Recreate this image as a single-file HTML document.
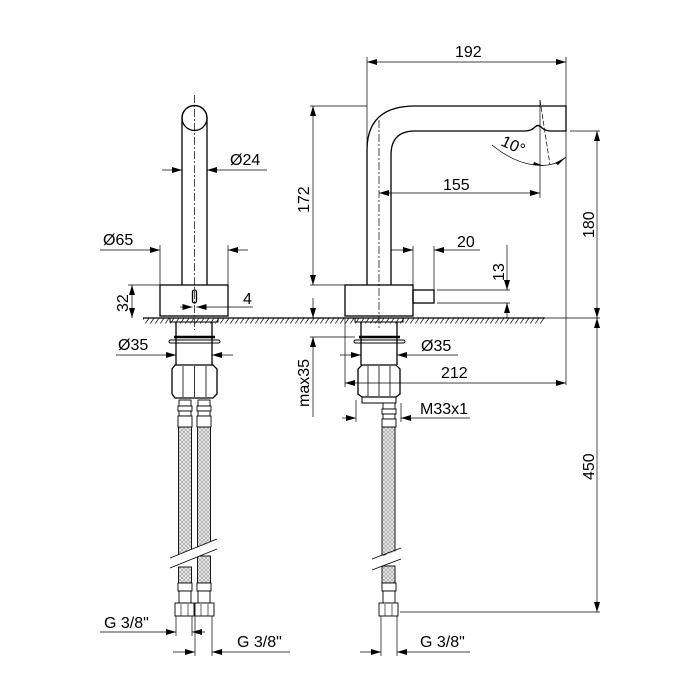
<!DOCTYPE html>
<html><head><meta charset="utf-8"><style>body{margin:0;background:#fff}svg{display:block}text{font-family:"Liberation Sans",sans-serif;font-size:16px;fill:#000}</style></head><body>
<svg width="700" height="700" viewBox="0 0 700 700" xmlns="http://www.w3.org/2000/svg">
<defs>
<marker id="a" viewBox="0 0 10 6" refX="10" refY="3" markerWidth="10" markerHeight="6" orient="auto-start-reverse" markerUnits="userSpaceOnUse"><path d="M0,0L10,3L0,6z" fill="#000"/></marker>
<pattern id="br" width="4" height="4" patternUnits="userSpaceOnUse"><rect width="4" height="4" fill="#e4e4e4"/><path d="M0,4L4,0M0,0L4,4" stroke="#888" stroke-width="0.5"/></pattern>
<pattern id="ht" width="5" height="6" patternUnits="userSpaceOnUse"><path d="M0,6L4,0" stroke="#000" stroke-width="0.7"/></pattern>
</defs>
<g fill="none" stroke="#000" stroke-width="0.7">
<line x1="143" y1="318" x2="545" y2="318" stroke-width="1.2"/>
<rect x="143" y="318.5" width="402" height="5" fill="url(#ht)" stroke="none"/>
<line x1="545" y1="318" x2="600" y2="318"/>
<line x1="194.5" y1="95" x2="194.5" y2="330" stroke-dasharray="8,2,2,2"/>
<line x1="379" y1="120" x2="379" y2="330" stroke-dasharray="8,2,2,2"/>
</g>
<g fill="none" stroke="#000" stroke-width="1.3">
<path d="M182,118 A12.5,12.5 0 0 1 207,118 L207,285 M182,118 L182,285"/>
<circle cx="194.5" cy="118" r="12.5"/>
<rect x="160" y="285" width="68" height="31"/>
<rect x="192.5" y="290" width="4" height="13" rx="2"/>
<rect x="170" y="318" width="48" height="4" stroke-width="1"/>
<line x1="176" y1="322" x2="176" y2="365"/><line x1="212" y1="322" x2="212" y2="365"/>
<line x1="174" y1="337" x2="215" y2="337" stroke-width="2.5"/>
<rect x="169" y="340" width="51" height="3" rx="1.5" stroke-width="0.9"/>
<path d="M175,365 L213,365 L217,369 L217,394 L213,398 L175,398 L172,394 L172,369 Z"/>
<line x1="183" y1="366" x2="183" y2="397" stroke-width="0.8"/><line x1="206" y1="366" x2="206" y2="397" stroke-width="0.8"/>
<line x1="194.5" y1="366" x2="194.5" y2="397" stroke-width="0.8"/>
<path d="M367,285 L367,150 Q367,106 415,106 L566,106 L566,131 L551,131 Q545,131 541,127 Q538,124 535,127 Q531,131 525,131 L415,131 Q391,131 391,155 L391,285"/>
<rect x="345" y="285" width="68" height="31"/>
<rect x="413" y="290" width="21" height="13"/>
<rect x="355" y="318" width="48" height="4" stroke-width="1"/>
<line x1="361" y1="322" x2="361" y2="365"/><line x1="397" y1="322" x2="397" y2="365"/>
<line x1="359" y1="337" x2="400" y2="337" stroke-width="2.5"/>
<rect x="354" y="340" width="51" height="3" rx="1.5" stroke-width="0.9"/>
<path d="M362,365 L396,365 L400,369 L400,394 L396,397 L362,397 L358,394 L358,369 Z"/>
<line x1="368" y1="366" x2="368" y2="396" stroke-width="0.8"/><line x1="379" y1="366" x2="379" y2="396" stroke-width="0.8"/><line x1="390" y1="366" x2="390" y2="396" stroke-width="0.8"/>
<rect x="362" y="397" width="34" height="6" stroke-width="1"/>
</g>
<g stroke="#000" stroke-width="0.9">
<rect x="178.5" y="427" width="13" height="130" fill="url(#br)"/><rect x="178.5" y="567" width="13" height="16" fill="url(#br)"/>
<rect x="197.5" y="427" width="13" height="120" fill="url(#br)"/><rect x="197.5" y="556" width="13" height="27" fill="url(#br)"/>
<rect x="382" y="427" width="13" height="128" fill="url(#br)"/><rect x="382" y="566" width="13" height="17" fill="url(#br)"/>
<g fill="#fff">
<rect x="179" y="400" width="12" height="6"/><rect x="178" y="406" width="14" height="5"/><rect x="179" y="411" width="12" height="5"/><rect x="178" y="416" width="14" height="11"/>
<rect x="198" y="400" width="12" height="6"/><rect x="197" y="406" width="14" height="5"/><rect x="198" y="411" width="12" height="5"/><rect x="197" y="416" width="14" height="11"/>
<rect x="383" y="403" width="12" height="6"/><rect x="382" y="409" width="14" height="5"/><rect x="383" y="414" width="12" height="5"/><rect x="382" y="419" width="14" height="8"/>
<rect x="178" y="583" width="14" height="8"/><rect x="179" y="591" width="12" height="12"/><rect x="175" y="603" width="19" height="13"/>
<rect x="197" y="583" width="14" height="8"/><rect x="198" y="591" width="12" height="12"/><rect x="195" y="603" width="19" height="13"/>
<rect x="382" y="583" width="14" height="8"/><rect x="383" y="591" width="12" height="12"/><rect x="379" y="603" width="19" height="13"/>
</g>
<path d="M181,604V616M188,604V616M201,604V616M208,604V616M385,604V616M392,604V616" fill="none" stroke-width="0.6"/>
</g>
<g stroke="#fff" stroke-width="9"><line x1="170" y1="563" x2="217" y2="544"/><line x1="372" y1="565" x2="401" y2="554"/></g>
<g stroke="#000" stroke-width="0.8" fill="none">
<line x1="170" y1="558" x2="217" y2="539"/><line x1="170" y1="568" x2="217" y2="549"/>
<line x1="372" y1="559" x2="401" y2="548"/><line x1="372" y1="570" x2="401" y2="559"/>
</g>
<g fill="none" stroke="#000" stroke-width="0.7">
<line x1="162" y1="170" x2="182" y2="170" marker-end="url(#a)"/><line x1="267" y1="170" x2="207" y2="170" marker-end="url(#a)"/>
<line x1="100" y1="250" x2="160" y2="250" marker-end="url(#a)"/><line x1="248" y1="250" x2="228" y2="250" marker-end="url(#a)"/>
<line x1="160" y1="245" x2="160" y2="285"/><line x1="228" y1="245" x2="228" y2="285"/>
<line x1="128" y1="285" x2="160" y2="285"/>
<line x1="132" y1="285" x2="132" y2="318" marker-start="url(#a)" marker-end="url(#a)"/>
<line x1="180" y1="307" x2="192.5" y2="307" marker-end="url(#a)"/><line x1="253" y1="307" x2="196.5" y2="307" marker-end="url(#a)"/>
<line x1="116" y1="355" x2="176" y2="355" marker-end="url(#a)"/><line x1="233" y1="355" x2="212" y2="355" marker-end="url(#a)"/>
<line x1="100" y1="632" x2="176" y2="632" marker-end="url(#a)"/><line x1="205" y1="632" x2="192" y2="632" marker-end="url(#a)"/>
<line x1="176" y1="616" x2="176" y2="636"/><line x1="192" y1="616" x2="192" y2="636"/>
<line x1="173" y1="652" x2="195" y2="652" marker-end="url(#a)"/><line x1="290" y1="652" x2="212" y2="652" marker-end="url(#a)"/>
<line x1="195" y1="616" x2="195" y2="656"/><line x1="212" y1="616" x2="212" y2="656"/>
<line x1="367" y1="62" x2="566" y2="62" marker-start="url(#a)" marker-end="url(#a)"/>
<line x1="367" y1="57" x2="367" y2="285"/><line x1="566" y1="57" x2="566" y2="385"/>
<line x1="310" y1="106" x2="367" y2="106"/><line x1="310" y1="285" x2="345" y2="285"/>
<line x1="313" y1="106" x2="313" y2="285" marker-start="url(#a)" marker-end="url(#a)"/>
<line x1="540" y1="100" x2="550" y2="165" stroke-dasharray="5,2"/><line x1="540" y1="100" x2="540" y2="198"/>
<path d="M492,145 Q520,168 548,165 Q560,163 566,157"/>
<path d="M533,165 L544,166 L534,162z M555,163 L566,157 L558,165z" fill="#000" stroke="none"/>
<line x1="379" y1="193" x2="540" y2="193" marker-start="url(#a)" marker-end="url(#a)"/>
<line x1="391" y1="250" x2="413" y2="250" marker-end="url(#a)"/><line x1="480" y1="250" x2="434" y2="250" marker-end="url(#a)"/>
<line x1="413" y1="246" x2="413" y2="290"/><line x1="434" y1="246" x2="434" y2="290"/>
<line x1="437" y1="290" x2="510" y2="290"/><line x1="437" y1="303" x2="510" y2="303"/>
<line x1="507" y1="245" x2="507" y2="290" marker-end="url(#a)"/><line x1="507" y1="318" x2="507" y2="303" marker-end="url(#a)"/>
<line x1="570" y1="131" x2="600" y2="131"/>
<line x1="597" y1="131" x2="597" y2="318" marker-start="url(#a)" marker-end="url(#a)"/>
<line x1="597" y1="318" x2="597" y2="612" marker-start="url(#a)" marker-end="url(#a)"/>
<line x1="400" y1="612" x2="600" y2="612"/>
<line x1="340" y1="355" x2="361" y2="355" marker-end="url(#a)"/><line x1="458" y1="355" x2="397" y2="355" marker-end="url(#a)"/>
<line x1="345" y1="318" x2="345" y2="387"/>
<line x1="345" y1="383" x2="566" y2="383" marker-start="url(#a)" marker-end="url(#a)"/>
<line x1="310" y1="337" x2="355" y2="337"/>
<line x1="313" y1="298" x2="313" y2="318" marker-end="url(#a)"/><line x1="313" y1="417" x2="313" y2="337" marker-end="url(#a)"/>
<line x1="356" y1="400" x2="356" y2="422"/><line x1="401" y1="403" x2="401" y2="422"/>
<line x1="342" y1="418" x2="356" y2="418" marker-end="url(#a)"/><line x1="470" y1="418" x2="401" y2="418" marker-end="url(#a)"/>
<line x1="381" y1="616" x2="381" y2="656"/><line x1="397" y1="616" x2="397" y2="656"/>
<line x1="360" y1="652" x2="381" y2="652" marker-end="url(#a)"/><line x1="470" y1="652" x2="397" y2="652" marker-end="url(#a)"/>
</g>
<text x="230" y="165">Ø24</text>
<text x="103" y="245">Ø65</text>
<text x="128" y="312" transform="rotate(-90 128 312)">32</text>
<text x="243" y="304">4</text>
<text x="118" y="350">Ø35</text>
<text x="104" y="628">G 3/8"</text>
<text x="237" y="647">G 3/8"</text>
<text x="455" y="57">192</text>
<text x="309" y="213" transform="rotate(-90 309 213)">172</text>
<text x="500" y="145" transform="rotate(25 500 145)">10°</text>
<text x="443" y="190">155</text>
<text x="457" y="247">20</text>
<text x="504" y="281" transform="rotate(-90 504 281)">13</text>
<text x="594" y="238" transform="rotate(-90 594 238)">180</text>
<text x="594" y="480" transform="rotate(-90 594 480)">450</text>
<text x="421" y="351">Ø35</text>
<text x="441" y="378">212</text>
<text x="309" y="407" transform="rotate(-90 309 407)">max35</text>
<text x="420" y="414">M33x1</text>
<text x="420" y="647">G 3/8"</text>
</svg>
</body></html>
